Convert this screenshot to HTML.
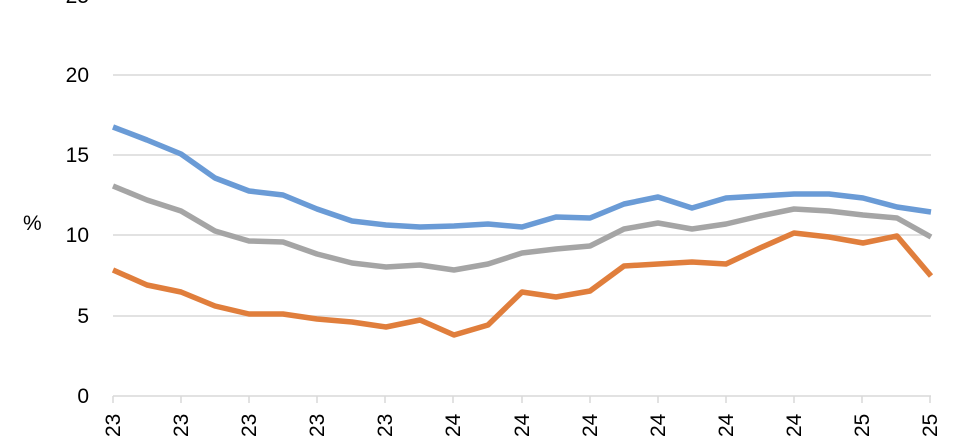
<!DOCTYPE html>
<html><head><style>
body{margin:0;background:#fff}
svg{display:block;font-family:"Liberation Sans",sans-serif}
</style></head><body>
<svg width="971" height="439" viewBox="0 0 971 439">
<g stroke="#d9d9d9" stroke-width="1.5">
<line x1="113" x2="931" y1="-5" y2="-5"/>
<line x1="113" x2="931" y1="75" y2="75"/>
<line x1="113" x2="931" y1="155" y2="155"/>
<line x1="113" x2="931" y1="235" y2="235"/>
<line x1="113" x2="931" y1="316" y2="316"/>
<line x1="113" x2="931" y1="396" y2="396"/>
<g>
<line x1="113" x2="113" y1="396" y2="403"/><line x1="181" x2="181" y1="396" y2="403"/><line x1="249" x2="249" y1="396" y2="403"/><line x1="317" x2="317" y1="396" y2="403"/><line x1="385" x2="385" y1="396" y2="403"/><line x1="453" x2="453" y1="396" y2="403"/><line x1="522" x2="522" y1="396" y2="403"/><line x1="590" x2="590" y1="396" y2="403"/><line x1="658" x2="658" y1="396" y2="403"/><line x1="726" x2="726" y1="396" y2="403"/><line x1="794" x2="794" y1="396" y2="403"/><line x1="862" x2="862" y1="396" y2="403"/><line x1="930" x2="930" y1="396" y2="403"/>
</g></g>
<g font-size="21" fill="#000" text-anchor="end">
<text x="89" y="3">25</text>
<text x="89" y="82">20</text>
<text x="89" y="162">15</text>
<text x="89" y="242">10</text>
<text x="89" y="323">5</text>
<text x="89" y="403">0</text>
</g>
<text x="23" y="230" font-size="21">%</text>
<g font-size="21" fill="#000">
<text transform="translate(120,437) rotate(-90)">23</text>
<text transform="translate(188,437) rotate(-90)">23</text>
<text transform="translate(256,437) rotate(-90)">23</text>
<text transform="translate(324,437) rotate(-90)">23</text>
<text transform="translate(392,437) rotate(-90)">23</text>
<text transform="translate(460,437) rotate(-90)">24</text>
<text transform="translate(529,437) rotate(-90)">24</text>
<text transform="translate(597,437) rotate(-90)">24</text>
<text transform="translate(665,437) rotate(-90)">24</text>
<text transform="translate(733,437) rotate(-90)">24</text>
<text transform="translate(801,437) rotate(-90)">24</text>
<text transform="translate(869,437) rotate(-90)">25</text>
<text transform="translate(937,437) rotate(-90)">25</text>
</g>
<g fill="none" stroke-width="5.5" stroke-linejoin="round">
<polyline stroke="#6a9bd6" points="113,127 147,140 181,154 215,178 249,191 283,195 317,209 352,221 386,225 420,227 454,226 488,224 522,227 556,217 590,218 624,204 658,197 692,208 726,198 760,196 794,194 829,194 863,198 897,207 931,212"/>
<polyline stroke="#a5a5a5" points="113,186 147,200 181,211 215,231 249,241 283,242 317,254 352,263 386,267 420,265 454,270 488,264 522,253 556,249 590,246 624,229 658,223 692,229 726,224 760,216 794,209 829,211 863,215 897,218 931,237"/>
<polyline stroke="#e07e3c" points="113,270 147,285 181,292 215,306 249,314 283,314 317,319 352,322 386,327 420,320 454,335 488,325 522,292 556,297 590,291 624,266 658,264 692,262 726,264 760,248 794,233 829,237 863,243 897,236 931,276"/>
</g>
</svg>
</body></html>
